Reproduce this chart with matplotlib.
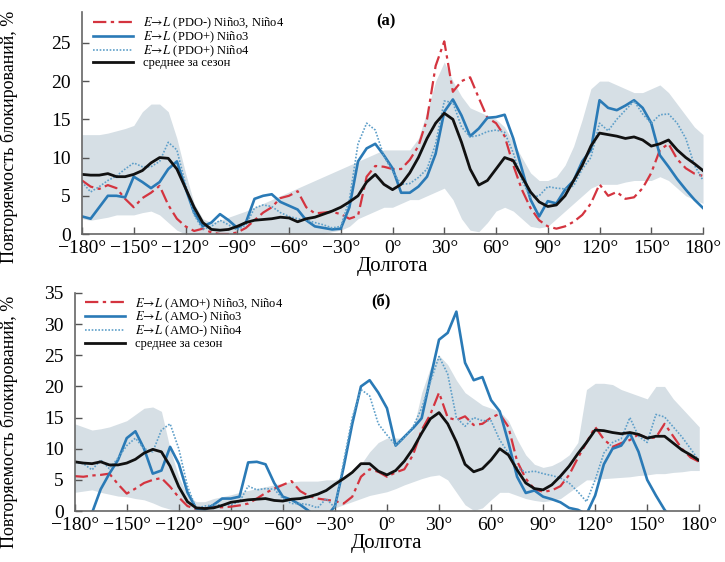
import numpy as np
import matplotlib
matplotlib.use("Agg")
import matplotlib.pyplot as plt

# долгота, шаг 5 градусов
lon = np.arange(-180, 181, 5)

# ---- (а) PDO ----
pdo_minus_n34 = [7.0, 6.2, 5.9, 6.4, 6.0, 4.6, 3.5, 4.7, 5.4, 6.3,
                 3.8, 2.0, 1.0, 0.4, 0.7, 0.2, 0.0, 0.0, 0.2, 0.8,
                 1.8, 2.8, 3.5, 4.7, 5.0, 5.6, 3.5, 2.7, 2.8, 2.9,
                 2.6, 2.0, 2.4, 7.5, 8.9, 8.8, 8.5, 8.5, 9.7, 11.5,
                 15.0, 22.0, 25.2, 18.6, 20.0, 20.5, 17.8, 15.2, 14.5, 12.8,
                 9.0, 5.8, 3.4, 1.8, 1.0, 0.7, 1.0, 1.6, 2.5, 4.0,
                 6.5, 5.0, 5.5, 4.6, 4.8, 6.0, 8.0, 11.0, 11.8, 9.8,
                 8.6, 7.9, 7.6]
pdo_plus_n3 = [2.3, 2.0, 3.5, 5.0, 5.0, 4.8, 7.5, 6.8, 6.0, 6.8,
               8.5, 9.5, 6.0, 2.8, 1.0, 1.5, 2.6, 1.8, 0.8, 1.5,
               4.6, 5.0, 5.2, 4.2, 3.7, 3.2, 1.8, 1.0, 0.8, 0.6,
               0.7, 3.5, 9.5, 11.2, 11.8, 10.3, 8.6, 5.4, 5.4, 6.2,
               7.5, 10.5, 16.0, 17.6, 15.5, 12.8, 13.8, 15.2, 15.3, 15.6,
               12.5, 8.5, 4.5, 2.3, 4.3, 4.0, 5.8, 7.0, 9.5, 11.0,
               17.5, 16.5, 16.2, 16.8, 17.5, 16.5, 14.5, 10.3, 8.8, 7.2,
               5.8, 4.5, 3.4]
pdo_plus_n4 = [6.8, 5.5, 6.2, 7.0, 7.6, 8.5, 9.3, 8.8, 8.8, 9.5,
               12.0, 11.0, 6.5, 2.5, 0.6, 1.0, 1.8, 1.2, 0.5, 1.2,
               3.4, 3.8, 3.6, 2.8, 2.3, 2.0, 1.8, 1.5, 1.2, 0.8,
               1.0, 4.5, 11.8, 14.5, 13.6, 10.2, 8.2, 6.5, 6.6, 7.4,
               8.5, 11.8, 17.4, 17.2, 14.0, 12.7, 12.9, 13.4, 13.6, 13.3,
               10.6, 7.0, 4.8, 5.0, 6.2, 6.0, 5.9, 6.3, 8.5, 10.0,
               14.5, 13.5, 15.0, 16.2, 17.4, 15.7, 14.5, 15.6, 15.7, 14.5,
               12.5, 9.0, 7.0]
mean_a = [7.8, 7.7, 7.7, 7.9, 7.5, 7.5, 7.8, 8.3, 9.3, 10.0,
          9.9, 8.5, 6.0, 3.5, 1.5, 0.6, 0.5, 0.6, 1.0, 1.5,
          1.8, 1.9, 2.0, 2.2, 2.1, 1.6, 2.0, 2.2, 2.6, 3.0,
          3.5, 4.2, 5.0, 6.8, 7.8, 6.5, 5.8, 6.5, 8.0, 10.0,
          12.5, 14.5, 15.8, 15.0, 12.0, 8.5, 6.4, 7.0, 8.5, 10.0,
          9.6, 7.5, 5.5, 4.2, 3.6, 3.8, 5.0, 7.0, 9.0, 11.5,
          13.2, 13.0, 12.8, 12.5, 12.7, 12.3, 11.5, 11.8, 12.3, 11.0,
          10.0, 9.2, 8.3]
band_a_low = [2.0, 1.8, 2.0, 2.2, 2.5, 2.5, 2.5, 2.8, 3.0, 2.5,
              1.5, 0.5, 0.0, 0.0, 0.0, 0.0, 0.0, 0.0, 0.0, 0.0,
              0.0, 0.0, 0.0, 0.0, 0.0, 0.0, 0.0, 0.0, 0.0, 0.3,
              0.5, 1.0, 2.0, 2.5, 3.0, 3.5, 3.5, 4.0, 4.5, 4.5,
              5.0, 5.5, 6.0, 4.5, 2.0, 0.5, 0.3, 1.5, 3.0, 3.5,
              3.0, 2.0, 1.0, 0.8, 1.0, 2.0, 3.0, 4.0, 5.0, 6.0,
              6.5, 6.5, 6.5, 6.8, 7.0, 7.0, 7.0, 7.5, 7.0, 6.0,
              5.0, 4.5, 4.0]
band_a_high = [13.0, 13.0, 13.0, 13.2, 13.5, 13.8, 14.2, 16.0, 17.0, 17.0,
               16.0, 12.5, 8.0, 4.0, 2.0, 1.5, 1.8, 2.2, 2.6, 3.0,
               3.5, 4.0, 4.5, 5.0, 5.5, 6.0, 6.5, 7.0, 7.5, 8.0,
               8.5, 9.0, 9.5, 10.0, 10.5, 11.0, 11.0, 11.0, 11.0, 12.5,
               16.0, 20.0, 22.5, 20.0, 18.0, 16.5, 16.0, 15.5, 15.0, 14.0,
               12.0, 10.0, 8.0, 7.0, 7.0, 7.5, 9.0, 11.5, 15.0, 19.0,
               20.0, 20.0, 19.5, 19.0, 18.5, 18.5, 19.0, 19.5, 18.5, 17.0,
               15.5, 14.0, 13.0]

# ---- (б) AMO ----
amo_plus_n34 = [5.6, 5.5, 5.7, 5.8, 6.0, 4.3, 2.8, 3.6, 4.5, 5.0,
                5.3, 3.9, 2.2, 0.8, 0.3, 0.4, 0.6, 0.6, 0.7, 0.9,
                1.2, 2.0, 2.9, 3.6, 4.2, 4.8, 3.2, 2.4, 2.0, 1.8,
                1.6, 1.2, 2.3, 5.5, 6.7, 6.3, 5.5, 6.2, 6.7, 9.0,
                13.0, 15.5, 19.0, 15.0, 14.6, 15.2, 13.8, 14.0, 15.0, 15.6,
                13.5, 8.0, 5.2, 3.5, 3.1, 3.3, 4.0, 5.8, 8.5, 11.0,
                13.5, 11.5, 10.3, 10.9, 11.4, 12.3, 11.7, 11.8, 14.0, 12.0,
                10.0, 8.6, 7.9]
amo_minus_n3 = [-2.0, -1.5, -0.3, 3.5, 6.0, 8.2, 11.7, 12.8, 10.0, 6.0,
                6.5, 10.3, 7.6, 3.0, 0.4, 0.2, 1.0, 2.0, 2.0, 2.3,
                7.8, 7.9, 7.5, 4.5, 2.3, 1.8, 1.0, 0.0, -1.0, -1.0,
                0.8, 7.0, 14.0, 20.0, 21.0, 19.0, 16.5, 10.5, 11.9, 13.3,
                14.9, 21.3, 27.5, 28.6, 32.0, 23.8, 21.0, 21.5, 17.8, 16.0,
                11.0, 5.5, 2.9, 3.3, 2.3, 1.9, 1.4, 0.5, 0.2, -0.5,
                2.5, 7.5, 10.0, 10.5, 12.5, 9.5, 5.0, 2.5, 0.2, -1.5,
                -2.5, -3.0, -3.0]
amo_minus_n4 = [7.8, 7.6, 6.6, 8.2, 6.8, 8.5, 10.5, 11.7, 10.0, 9.5,
                13.0, 14.0, 10.0, 4.0, 0.4, 0.8, 1.0, 1.0, 1.0, 1.5,
                4.0, 3.4, 3.6, 3.5, 2.0, 1.2, 1.2, 1.0, 0.5, 2.0,
                0.5, 7.9, 15.0, 19.5, 18.5, 14.0, 12.2, 10.6, 11.8, 13.5,
                16.5, 20.7, 24.8, 22.0, 15.0, 13.6, 15.0, 14.5, 14.5, 11.4,
                9.3, 7.0, 6.2, 6.4, 6.0, 5.7, 5.3, 4.5, 3.1, 1.5,
                5.0, 9.3, 11.0, 11.6, 15.0, 12.0, 11.0, 15.5, 15.1, 13.5,
                11.9, 10.0, 8.0]
mean_b = [7.9, 7.7, 7.6, 7.9, 7.4, 7.4, 7.7, 8.3, 9.3, 9.9,
          9.5, 7.2, 3.9, 1.5, 0.5, 0.4, 0.5, 0.9, 1.4, 1.6,
          1.8, 1.9, 2.0, 1.7, 1.6, 1.9, 2.0, 2.3, 2.7, 3.3,
          4.3, 5.2, 6.2, 7.6, 7.6, 6.4, 5.8, 6.5, 8.0, 10.0,
          12.5, 14.8, 15.8, 14.0, 11.1, 7.5, 6.3, 6.8, 8.2, 10.0,
          9.0, 6.6, 4.5, 3.6, 3.4, 4.2, 5.6, 7.2, 9.2, 11.0,
          13.0, 12.9, 12.6, 12.4, 12.6, 12.3, 11.7, 12.0, 12.0, 10.9,
          9.8, 9.0, 8.1]
band_b_low = [3.0, 3.2, 3.4, 3.0, 2.7, 2.4, 2.3, 2.0, 1.8, 1.3,
              0.7, 0.3, 0.0, 0.0, 0.0, 0.0, 0.0, 0.0, 0.0, 0.0,
              0.0, 0.0, 0.0, 0.0, 0.0, 0.0, 0.0, 0.0, 0.0, 0.0,
              0.5, 1.0, 1.5, 2.0, 2.5, 2.8, 3.1, 3.6, 4.2, 4.7,
              5.2, 5.6, 5.8, 5.0, 3.0, 1.0, 0.1, 0.5, 1.8, 3.0,
              3.0, 2.5, 2.0, 1.7, 1.5, 1.7, 2.0, 3.0, 4.0, 5.0,
              5.0, 5.2, 5.3, 5.4, 5.5, 5.7, 5.8, 6.0, 6.0, 6.2,
              6.3, 6.5, 6.5]
band_b_high = [14.0, 13.5, 13.0, 13.2, 13.5, 14.0, 14.5, 15.5, 16.5, 16.7,
               16.0, 10.0, 5.5, 2.5, 1.5, 1.5, 2.0, 2.3, 2.6, 3.0,
               3.3, 3.6, 3.9, 4.2, 4.5, 4.7, 4.8, 4.8, 4.8, 5.0,
               5.0, 5.5, 6.0, 7.5, 9.5, 11.0, 11.7, 11.7, 11.7, 13.0,
               19.0, 23.0, 25.0, 23.5, 21.0, 19.0, 18.0, 17.0, 16.5, 16.0,
               14.5, 11.5, 9.0, 7.5, 7.0, 7.3, 8.0, 9.0, 11.0, 19.5,
               20.5, 20.5, 20.3, 19.5, 19.0, 18.5, 18.0, 20.0, 20.0, 18.0,
               16.5, 15.0, 13.5]

xticks = [-180, -150, -120, -90, -60, -30, 0, 30, 60, 90, 120, 150, 180]
xticklabels = ["−180°", "−150°", "−120°", "−90°", "−60°", "−30°", "0°",
               "30°", "60°", "90°", "120°", "150°", "180°"]
labels_a = [r"$E\!\rightarrow\!L$ (PDO-) Niño3, Niño4",
            r"$E\!\rightarrow\!L$ (PDO+) Niño3",
            r"$E\!\rightarrow\!L$ (PDO+) Niño4",
            "среднее за сезон"]
labels_b = [r"$E\!\rightarrow\!L$ (AMO+) Niño3, Niño4",
            r"$E\!\rightarrow\!L$ (AMO-) Niño3",
            r"$E\!\rightarrow\!L$ (AMO-) Niño4",
            "среднее за сезон"]

plt.rcParams["font.family"] = ["Liberation Serif", "DejaVu Serif"]
plt.rcParams["mathtext.fontset"] = "stix"

red = "#d4343f"
blue = "#2a7ab6"
lblue = "#5e9fc9"
band = "#d6dfe5"

fig = plt.figure(figsize=(7.25, 5.62), dpi=100)
ax1 = fig.add_axes([0.1131, 0.5836, 0.8566, 0.3945])
ax2 = fig.add_axes([0.1030, 0.0907, 0.8615, 0.3880])


def draw_panel(ax, lo, hi, r, b, d, m, labels, ymax, yt, tag, ylab_xy):
    ax.fill_between(lon, lo, hi, color=band, lw=0)
    ax.plot(lon, r, color=red, lw=1.6, dashes=(6, 2, 1.5, 2), label=labels[0])
    ax.plot(lon, b, color=blue, lw=1.9, label=labels[1])
    ax.plot(lon, d, color=lblue, lw=1.2, dashes=(1, 1), label=labels[2])
    ax.plot(lon, m, color="#111111", lw=2.0, label=labels[3])
    ax.set_xlim(-180, 180)
    ax.set_ylim(0, ymax)
    ax.set_xticks(xticks)
    ax.set_xticklabels(xticklabels)
    ax.set_yticks(yt)
    ax.tick_params(direction="in", length=5, width=1, color="#555555",
                   labelsize=14, pad=4)
    ax.tick_params(axis="y", pad=8)
    for s in ["top", "right"]:
        ax.spines[s].set_visible(False)
    for s in ["left", "bottom"]:
        ax.spines[s].set_color("#666666")
        ax.spines[s].set_linewidth(1.2)
    ax.set_xlabel("Долгота", fontsize=15, labelpad=0)
    ax.set_ylabel("Повторяемость блокирований, %", fontsize=13)
    ax.yaxis.set_label_coords(*ylab_xy)
    ax.text(0.49, 0.995, tag, transform=ax.transAxes, ha="center", va="top",
            fontsize=12, fontweight="bold")
    ax.legend(loc="upper left", bbox_to_anchor=(0.005, 1.02), frameon=False,
              fontsize=9, handlelength=3.2, handletextpad=0.8,
              labelspacing=-0.12, borderaxespad=0.2)


draw_panel(ax1, band_a_low, band_a_high, pdo_minus_n34, pdo_plus_n3,
           pdo_plus_n4, mean_a, labels_a, 29, [0, 5, 10, 15, 20, 25],
           "(а)", (-0.103, 0.44))
draw_panel(ax2, band_b_low, band_b_high, amo_plus_n34, amo_minus_n3,
           amo_minus_n4, mean_b, labels_b, 35, [0, 5, 10, 15, 20, 25, 30, 35],
           "(б)", (-0.091, 0.41))

fig.savefig("out.png", dpi=100)
